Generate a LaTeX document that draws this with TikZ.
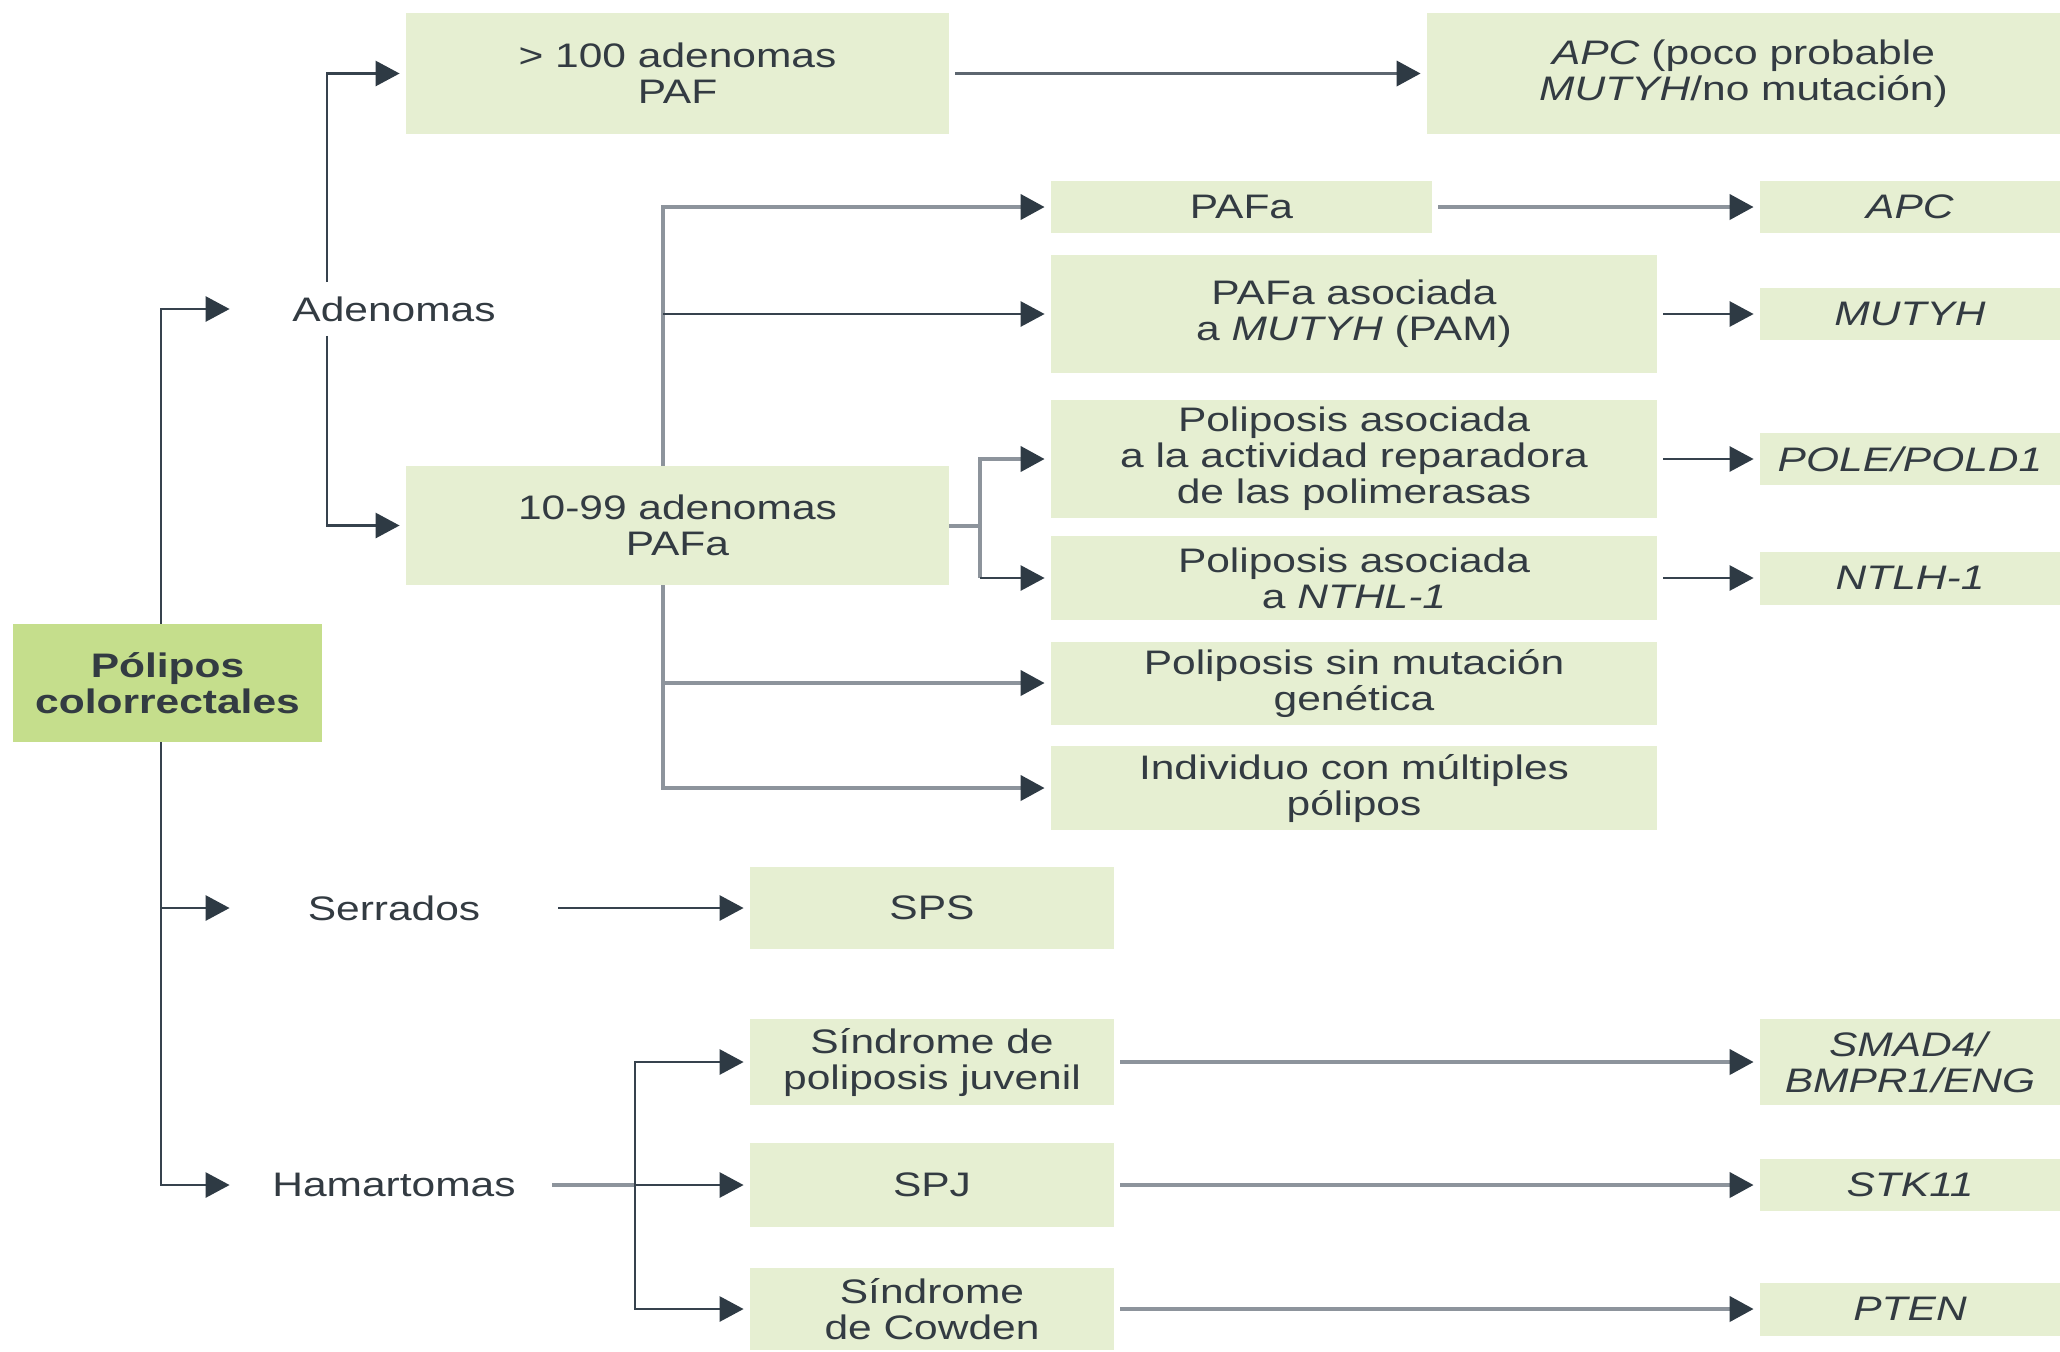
\documentclass[tikz,border=0pt]{standalone}
\usepackage{fontspec}
\setmainfont{Liberation Sans}[FakeStretch=1.25]
\usetikzlibrary{arrows.meta}
\definecolor{lg}{HTML}{E6EFD2}
\definecolor{dg}{HTML}{C5DE8C}
\definecolor{tx}{HTML}{333B42}
\definecolor{dk}{HTML}{36424D}
\definecolor{gr}{HTML}{8D949C}
\definecolor{md}{HTML}{5D6670}
\definecolor{ah}{HTML}{2E3A44}
\begin{document}
\begin{tikzpicture}[x=0.5pt,y=-0.5pt,
  every node/.style={font=\fontsize{17}{18}\selectfont, text=tx, align=center, inner sep=0pt},
  bx/.style n args={2}{fill=lg, minimum width=#1*0.5pt, minimum height=#2*0.5pt},
  lab/.style={fill=white, minimum width=158pt, minimum height=26.5pt},
  tip/.style={-{Triangle[length=12pt,width=12.5pt,color=ah]}, shorten >=3pt},
  darr/.style={draw=dk, line width=1.4pt, tip},
  garr/.style={draw=gr, line width=2pt, tip},
  marr/.style={draw=md, line width=1.8pt, tip},
  gline/.style={draw=gr, line width=2pt},
  st/.style={shorten <=3pt}
]
\useasboundingbox (0,0) rectangle (2060,1351);

% junction coordinates
\coordinate (tk) at (161,0);
\coordinate (av) at (327,0);
\coordinate (pv) at (663,0);
\coordinate (bv) at (980,0);
\coordinate (hv) at (635,0);

% root and categories
\node[bx={309}{118}, fill=dg, font=\fontsize{17}{18}\selectfont\bfseries] (pol0) at (167.5,683) {Pólipos\\colorrectales};
\node[lab] (adn) at (394,309) {Adenomas};
\node[lab] (ser) at (394,908) {Serrados};
\node[lab] (ham) at (394,1185) {Hamartomas};

% adenomas branch
\node[bx={543}{121}] (paf) at (677.5,73.5) {\textgreater{} 100 adenomas\\PAF};
\node[bx={633}{121}] (apc0) at (1743.5,73.5) {\textit{APC} (poco probable\\\textit{MUTYH}/no mutación)};
\node[bx={543}{119}] (pafa0) at (677.5,525.5) {10-99 adenomas\\PAFa};

\node[bx={381}{52}] (pafa1) at (1241.5,207) {PAFa};
\node[bx={606}{118}] (pam) at (1354,314) {PAFa asociada\\a \textit{MUTYH} (PAM)};
\node[bx={606}{118}] (polim) at (1354,459) {Poliposis asociada\\a la actividad reparadora\\de las polimerasas};
\node[bx={606}{84}] (nthl) at (1354,578) {Poliposis asociada\\a \textit{NTHL-1}};
\node[bx={606}{83}] (sinmut) at (1354,683) {Poliposis sin mutación\\genética};
\node[bx={606}{84}] (indiv) at (1354,788) {Individuo con múltiples\\pólipos};

\node[bx={300}{52}] (apc1) at (1910,207) {\textit{APC}};
\node[bx={300}{52}] (mut1) at (1910,314) {\textit{MUTYH}};
\node[bx={300}{52}] (pole) at (1910,459) {\textit{POLE/POLD1}};
\node[bx={300}{53}] (ntlh) at (1910,578) {\textit{NTLH-1}};

% serrados / hamartomas
\node[bx={364}{82}] (sps) at (932,908) {SPS};
\node[bx={364}{86}] (juv) at (932,1062) {Síndrome de\\poliposis juvenil};
\node[bx={364}{84}] (spj) at (932,1185) {SPJ};
\node[bx={364}{82}] (cow) at (932,1309) {Síndrome\\de Cowden};

\node[bx={300}{86}] (smad) at (1910,1062) {\textit{SMAD4/}\\\textit{BMPR1/ENG}};
\node[bx={300}{52}] (stk) at (1910,1185) {\textit{STK11}};
\node[bx={300}{53}] (pten) at (1910,1309) {\textit{PTEN}};

% trunk
\draw[darr] (pol0.north -| tk) |- (adn.west);
\draw[darr] (pol0.south -| tk) |- (ham.west);
\draw[darr] (ser.west -| tk) -- (ser.west);

% adenomas
\draw[darr] (adn.north -| av) |- (paf.west);
\draw[darr] (adn.south -| av) |- (pafa0.west);
\draw[marr, st] (paf.east) -- (apc0.west);

% 10-99 tree
\draw[garr] (pafa0.north -| pv) |- (pafa1.west);
\draw[darr] (pam.west -| pv) -- (pam.west);
\draw[garr] (pafa0.south -| pv) |- (indiv.west);
\draw[garr] (sinmut.west -| pv) -- (sinmut.west);
\draw[gline] (pafa0.east) -- (pafa0.east -| bv);
\draw[garr] (pafa0.east -| bv) |- (polim.west);
\draw[gline] (pafa0.east -| bv) -- (nthl.west -| bv);
\draw[darr] (nthl.west -| bv) -- (nthl.west);

% to genes
\draw[garr, st] (pafa1.east) -- (apc1.west);
\draw[darr, st] (pam.east) -- (mut1.west);
\draw[darr, st] (polim.east) -- (pole.west);
\draw[darr, st] (nthl.east) -- (ntlh.west);

% serrados
\draw[darr, st] (ser.east) -- (sps.west);

% hamartomas
\draw[gline] (ham.east) -- (spj.west -| hv);
\draw[darr] (spj.west -| hv) -- (spj.west);
\draw[darr] (spj.west -| hv) |- (juv.west);
\draw[darr] (spj.west -| hv) |- (cow.west);
\draw[garr, st] (juv.east) -- (smad.west);
\draw[garr, st] (spj.east) -- (stk.west);
\draw[garr, st] (cow.east) -- (pten.west);
\end{tikzpicture}
\end{document}
